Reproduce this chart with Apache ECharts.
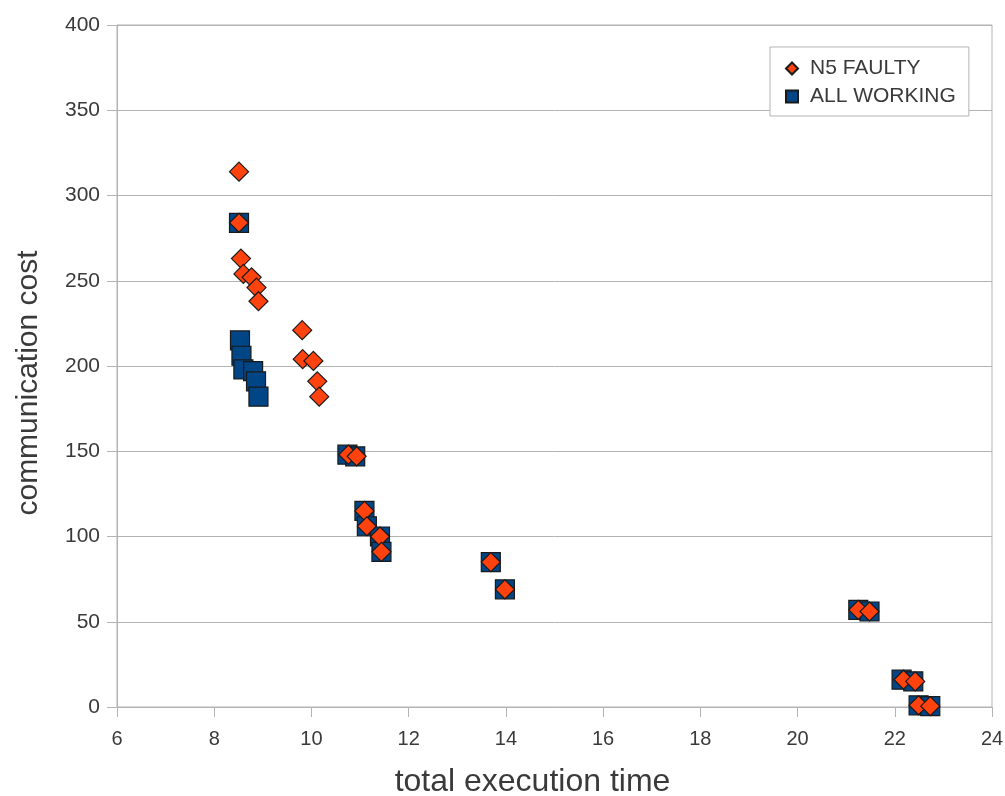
<!DOCTYPE html>
<html>
<head>
<meta charset="utf-8">
<script src="https://cdn.jsdelivr.net/npm/echarts@6/dist/echarts.min.js"></script>
<style>
html,body{margin:0;padding:0;background:#fff;}
#chart{width:1005px;height:796px;}
</style>
</head>
<body>
<div id="chart"></div>
<script>
const faultyX = [8.51, 8.51, 8.55, 8.60, 8.77, 8.87, 8.91, 9.81, 9.82, 10.04, 10.12, 10.16, 10.76, 10.93, 11.09, 11.14, 11.41, 11.44, 13.69, 13.98, 21.25, 21.48, 22.18, 22.42, 22.49, 22.73];
const faultyY = [314, 284, 263, 254, 252, 246, 238, 221, 204, 203, 191, 182, 148, 147, 115, 106, 100, 91, 85, 69, 57, 56, 16, 15, 1, 0.5];
const workingX = [8.51, 8.53, 8.56, 8.60, 8.80, 8.86, 8.91, 10.74, 10.90, 11.09, 11.14, 11.41, 11.44, 13.69, 13.98, 21.25, 21.48, 22.14, 22.38, 22.49, 22.73];
const workingY = [284, 215, 206, 198, 197, 191, 182, 148, 147, 115, 106, 100, 91, 85, 69, 57, 56, 16, 15, 1, 0.5];
const xTicks = {min: 6, max: 24, interval: 2};
const yTicks = {min: 0, max: 400, interval: 50};
const seriesNames = ['N5 FAULTY', 'ALL WORKING'];

const faultyData = faultyX.map((x, i) => [x, faultyY[i]]);
const workingData = workingX.map((x, i) => [x, workingY[i]]);

const chart = echarts.init(document.getElementById('chart'));
const axisGrey = '#b3b3b3';
const txt = '#3a3a3a';
const font = 'Liberation Sans, Arial, sans-serif';
chart.setOption({
  backgroundColor: '#ffffff',
  animation: false,
  textStyle: {fontFamily: font},
  grid: {left: 117, right: 13, top: 25, bottom: 89, containLabel: false, outerBoundsMode: 'none',
         show: true, borderColor: axisGrey, borderWidth: 1, backgroundColor: 'transparent'},
  legend: {
    data: seriesNames,
    orient: 'vertical',
    left: 770, top: 47,
    padding: [11, 13, 9, 15],
    itemGap: 7,
    itemWidth: 12, itemHeight: 12,
    backgroundColor: '#fff',
    borderColor: '#b3b3b3', borderWidth: 1,
    textStyle: {fontSize: 21, color: txt, fontFamily: font, padding: [0, 0, 0, 7]}
  },
  xAxis: {
    type: 'value', min: xTicks.min, max: xTicks.max, interval: xTicks.interval,
    name: 'total execution time', nameLocation: 'middle', nameGap: 59,
    nameTextStyle: {fontSize: 32, color: txt, fontFamily: font, padding: [0, 44, 0, 0]},
    axisLine: {show: true, lineStyle: {color: axisGrey, width: 1}},
    axisTick: {show: true, length: 10, lineStyle: {color: axisGrey}},
    axisLabel: {fontSize: 20, color: txt, margin: 22, fontFamily: font},
    splitLine: {show: false}
  },
  yAxis: {
    type: 'value', min: yTicks.min, max: yTicks.max, interval: yTicks.interval,
    name: 'communication cost', nameLocation: 'middle', nameGap: 73,
    nameTextStyle: {fontSize: 30, color: txt, padding: [0, 34, 0, 0]},
    axisLine: {show: true, lineStyle: {color: axisGrey, width: 1}},
    axisTick: {show: true, length: 10, lineStyle: {color: axisGrey}},
    axisLabel: {fontSize: 21, color: txt, margin: 17},
    splitLine: {show: true, lineStyle: {color: axisGrey, width: 1}}
  },
  series: [
    {
      name: 'ALL WORKING', type: 'scatter', data: workingData,
      symbol: 'rect', symbolSize: 19, z: 2,
      itemStyle: {color: '#004586', borderColor: '#1a1a1a', borderWidth: 1.2, opacity: 1}
    },
    {
      name: 'N5 FAULTY', type: 'scatter', data: faultyData,
      symbol: 'diamond', symbolSize: 19, z: 3,
      itemStyle: {color: '#ff420e', borderColor: '#1a1a1a', borderWidth: 1.2, opacity: 1}
    }
  ]
});
</script>
</body>
</html>
